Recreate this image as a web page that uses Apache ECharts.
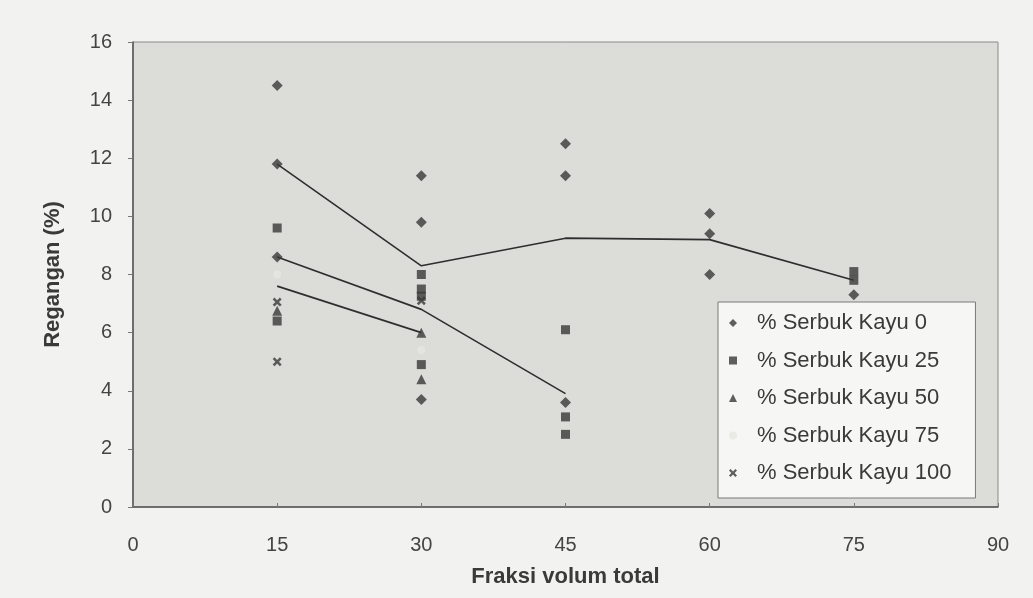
<!DOCTYPE html>
<html>
<head>
<meta charset="utf-8">
<script src="https://cdn.jsdelivr.net/npm/echarts@6/dist/echarts.min.js"></script>
<style>
  html, body { margin: 0; padding: 0; background: #f2f2f0; }
  #chart { width: 1033px; height: 598px; }
</style>
</head>
<body>
<div id="chart"></div>
<script>
// Fraksi volum total (x) vs Regangan % (y) for each wood-powder share
const xTicks = [0, 15, 30, 45, 60, 75, 90];
const yTicks = [0, 2, 4, 6, 8, 10, 12, 14, 16];

const kayu0   = [[15, 14.5], [15, 11.8], [15, 8.6], [30, 11.4], [30, 9.8], [30, 3.7],
                 [45, 12.5], [45, 11.4], [45, 3.6], [60, 10.1], [60, 9.4], [60, 8.0], [75, 7.3]];
const kayu25  = [[15, 9.6], [15, 6.4], [30, 8.0], [30, 7.5], [30, 7.25], [30, 4.9],
                 [45, 6.1], [45, 3.1], [45, 2.5], [75, 8.1], [75, 7.8]];
const kayu50  = [[15, 6.75], [30, 6.0], [30, 4.4]];
const kayu75  = [[15, 8.0], [30, 5.4]];
const kayu100 = [[15, 7.05], [15, 5.0], [30, 7.1]];

// connecting polylines
const lineA = [[15, 11.8], [30, 8.3], [45, 9.25], [60, 9.2], [75, 7.8]];
const lineB = [[15, 8.6], [30, 6.8], [45, 3.9]];
const lineC = [[15, 7.6], [30, 6.0]];

const seriesNames = ['% Serbuk Kayu 0', '% Serbuk Kayu 25', '% Serbuk Kayu 50',
                     '% Serbuk Kayu 75', '% Serbuk Kayu 100'];

const markColor = '#383838';
const font = '"Liberation Sans", Arial, sans-serif';
const crossPath = 'path://M0,2 L2,0 L5,3 L8,0 L10,2 L7,5 L10,8 L8,10 L5,7 L2,10 L0,8 L3,5 Z';

function scatter(name, data, symbol, size, color) {
  return {
    name, type: 'scatter', data, symbol, symbolSize: size,
    itemStyle: { color: color || markColor }, z: 3
  };
}
function polyline(data) {
  return {
    type: 'line', data, symbol: 'none', silent: true,
    lineStyle: { color: '#2e2e2e', width: 1.6 }, z: 2
  };
}

const chart = echarts.init(document.getElementById('chart'));
chart.setOption({
  backgroundColor: '#f2f2f0',
  animation: false,
  grid: {
    left: 133, right: 35, top: 42, bottom: 91,
    show: true, backgroundColor: '#dcdcd8', borderColor: '#8a8a88', borderWidth: 1
  },
  xAxis: {
    type: 'value', min: xTicks[0], max: xTicks[xTicks.length - 1], interval: 15,
    name: 'Fraksi volum total', nameLocation: 'middle', nameGap: 59,
    nameTextStyle: { fontFamily: font, fontSize: 22, fontWeight: 'bold', color: '#3a3a3a' },
    axisLine: { lineStyle: { color: '#555', width: 1.5 } },
    axisTick: { show: true, inside: true, length: 4, lineStyle: { color: '#777' } },
    axisLabel: { fontFamily: font, fontSize: 20, color: '#444', margin: 28 },
    splitLine: { show: false }
  },
  yAxis: {
    type: 'value', min: yTicks[0], max: yTicks[yTicks.length - 1], interval: 2,
    name: 'Regangan (%)', nameLocation: 'middle', nameGap: 69,
    nameTextStyle: { fontFamily: font, fontSize: 22, fontWeight: 'bold', color: '#3a3a3a' },
    axisLine: { show: true, lineStyle: { color: '#555', width: 1.5 } },
    axisTick: { show: true, length: 5, lineStyle: { color: '#777' } },
    axisLabel: { fontFamily: font, fontSize: 20, color: '#444', margin: 21 },
    splitLine: { show: false }
  },
  legend: {
    data: seriesNames,
    orient: 'vertical', left: 718, top: 302,
    backgroundColor: '#f6f6f4', borderColor: '#7a7a78', borderWidth: 1,
    padding: [9, 24, 13, 11],
    itemWidth: 8, itemHeight: 8, itemGap: 13.5,
    textStyle: { fontFamily: font, fontSize: 22, color: '#3a3a3a', lineHeight: 24, padding: [0, 0, 0, 15] }
  },
  series: [
    scatter(seriesNames[0], kayu0, 'diamond', 11),
    scatter(seriesNames[1], kayu25, 'rect', 9),
    scatter(seriesNames[2], kayu50, 'triangle', 10),
    scatter(seriesNames[3], kayu75, 'circle', 8, '#e6e6e2'),
    scatter(seriesNames[4], kayu100, crossPath, 9),
    polyline(lineA),
    polyline(lineB),
    polyline(lineC)
  ]
});
</script>
</body>
</html>
